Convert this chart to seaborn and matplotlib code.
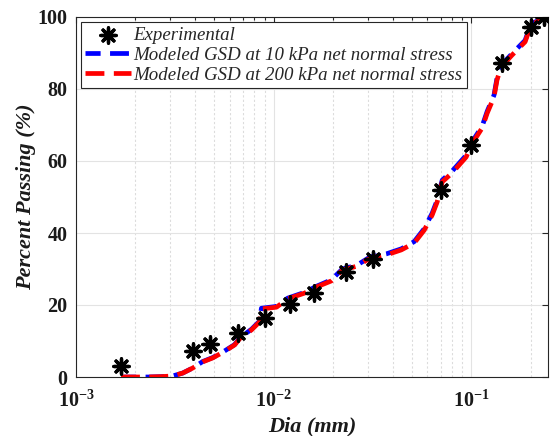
import numpy as np
import pandas as pd
import matplotlib
matplotlib.use('Agg')
import matplotlib.pyplot as plt
import seaborn as sns

# Experimental grain size distribution
dia_exp = [0.00168, 0.00391, 0.00479, 0.00664, 0.00904, 0.0121, 0.0160,
           0.0233, 0.0320, 0.0703, 0.1004, 0.1428, 0.201, 0.2344]
pass_exp = [3.0, 7.3, 9.1, 12.1, 16.5, 20.3, 23.2,
            29.2, 32.8, 51.9, 64.4, 87.1, 97.3, 100.0]

# Modeled GSD curves
dia_mod = [0.00169, 0.00208, 0.00231, 0.00270, 0.00309, 0.00347, 0.00390,
           0.00438, 0.00492, 0.00560, 0.00635, 0.00673, 0.00774, 0.00849,
           0.00868, 0.01035, 0.01178, 0.01435, 0.01649, 0.01963, 0.0223,
           0.0265, 0.0309, 0.0372, 0.0443, 0.0515, 0.0579, 0.0635, 0.0673,
           0.0714, 0.0802, 0.0944, 0.1000, 0.1138, 0.1206, 0.1306, 0.1352,
           0.1418, 0.1610, 0.1876, 0.2010, 0.2393]
pass_10kpa = [0.0, 0.0, 0.0, 0.1, 0.3, 1.1, 2.5, 4.3, 5.4, 7.1, 9.0, 10.8,
              13.3, 15.5, 19.1, 19.6, 21.9, 23.5, 25.2, 27.0, 30.0, 31.1,
              33.4, 34.2, 35.6, 37.6, 41.2, 45.5, 49.1, 54.7, 57.2, 61.6,
              64.9, 69.7, 73.8, 78.3, 83.0, 86.6, 89.8, 93.5, 98.1, 100.0]
pass_200kpa = [0.0, 0.0, 0.0, 0.1, 0.3, 1.1, 2.5, 4.2, 5.3, 7.0, 8.9, 10.6,
               13.1, 15.3, 18.9, 19.4, 21.7, 23.3, 25.0, 26.7, 29.7, 30.8,
               33.1, 33.9, 35.3, 37.2, 40.8, 45.0, 48.6, 54.2, 56.7, 61.1,
               64.4, 69.2, 73.3, 77.8, 82.5, 86.1, 89.4, 93.1, 97.8, 100.0]

labels = ['Experimental',
          'Modeled GSD at 10 kPa net normal stress',
          'Modeled GSD at 200 kPa net normal stress']

sns.set_theme(style='white')
plt.rcParams['font.family'] = ['Liberation Serif', 'DejaVu Serif']
plt.rcParams['mathtext.fontset'] = 'custom'
plt.rcParams['mathtext.rm'] = 'Liberation Serif:bold'
plt.rcParams['mathtext.bf'] = 'Liberation Serif:bold'
plt.rcParams['mathtext.it'] = 'Liberation Serif:bold:italic'

fig = plt.figure(figsize=(5.5, 4.36), dpi=100)
ax = fig.add_axes([76 / 550, 59 / 436, 472 / 550, 360 / 436])

sns.lineplot(x=dia_mod, y=pass_10kpa, color='#0000ff', lw=3.4,
             linestyle=(0.8, (4, 2)), sort=False, ax=ax, label=labels[1], zorder=3)
sns.lineplot(x=dia_mod, y=pass_200kpa, color='#ff0000', lw=3.4,
             linestyle=(0, (4, 2)), sort=False, ax=ax, label=labels[2], zorder=4)
sns.scatterplot(x=dia_exp, y=pass_exp, marker=(8, 2, 0), s=120, color='black',
                linewidth=2.4, ax=ax, label=labels[0], zorder=5)

ax.set_xscale('log')
ax.set_xlim(1e-3, 0.245)
ax.set_ylim(0, 100)
ax.set_xticks([1e-3, 1e-2, 1e-1])
ax.set_xticklabels([r'$\mathbf{10^{-3}}$', r'$\mathbf{10^{-2}}$', r'$\mathbf{10^{-1}}$'])
ax.set_yticks([0, 20, 40, 60, 80, 100])
ax.set_yticklabels(['0', '20', '40', '60', '80', '100'])

ax.grid(True, which='major', color='#e3e3e3', lw=0.8)
ax.grid(True, which='minor', axis='x', color='#dcdcdc', ls=(0, (2, 2)), lw=0.8)
ax.set_axisbelow(True)

ax.tick_params(which='both', direction='in', top=True, right=True,
               color='#262626', width=0.8)
ax.tick_params(which='major', length=4)
ax.tick_params(which='minor', length=2)
ax.tick_params(axis='x', which='major', pad=10, labelsize=14.5)
ax.tick_params(axis='y', which='major', pad=6, labelsize=14.5)
for lab in ax.get_xticklabels() + ax.get_yticklabels():
    lab.set_fontweight('bold')
    lab.set_color('#1a1a1a')
for sp in ax.spines.values():
    sp.set_color('#262626')
    sp.set_linewidth(0.8)

ax.set_xlabel('Dia (mm)', fontsize=16, fontweight='bold', fontstyle='italic',
              color='#1a1a1a', labelpad=3)
ax.set_ylabel('Percent Passing (%)', fontsize=16, fontweight='bold',
              fontstyle='italic', color='#1a1a1a', labelpad=1)

handles, labs = ax.get_legend_handles_labels()
order = [labs.index(l) for l in labels]
leg = ax.legend([handles[i] for i in order], [labs[i] for i in order],
                loc='upper left', bbox_to_anchor=(0, 1), borderaxespad=0.25,
                prop={'family': 'Liberation Serif', 'style': 'italic', 'size': 13.6},
                frameon=True, fancybox=False, edgecolor='#262626',
                framealpha=1, borderpad=0.25, labelspacing=0.15,
                handlelength=2.4, handletextpad=0.15)
leg.get_frame().set_linewidth(0.8)

fig.savefig('out.png', dpi=100)
